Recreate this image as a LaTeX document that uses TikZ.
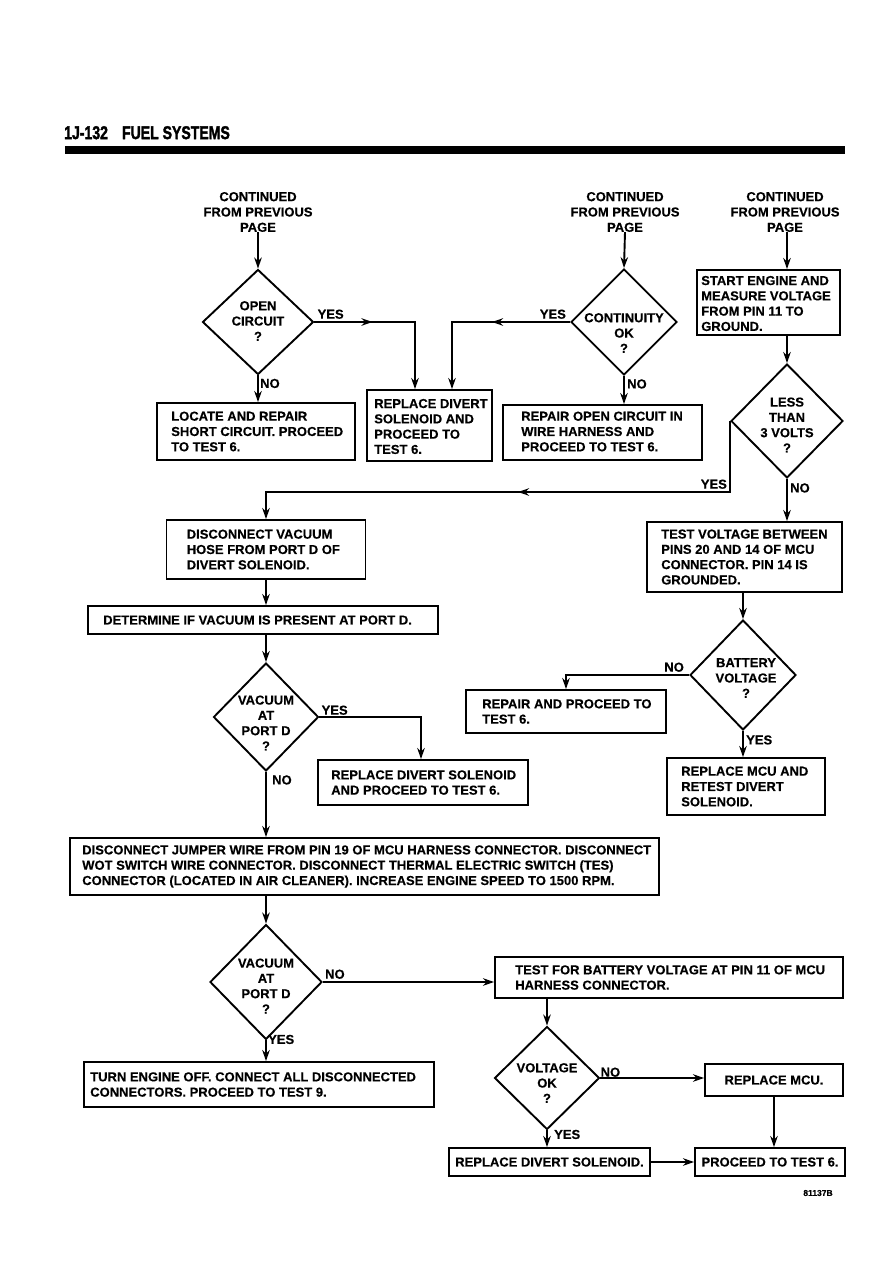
\documentclass[tikz,border=0pt]{standalone}
\usepackage{fontspec}
\setmainfont{Liberation Sans}[BoldFeatures={FakeBold=0.4}]
\newfontfamily\hdrfont{Liberation Sans}[BoldFeatures={FakeBold=2.2}]
\usetikzlibrary{shapes.geometric,arrows.meta,calc}
\begin{document}
\begin{tikzpicture}[x=1pt,y=-1pt,
 every node/.style={font=\fontsize{13}{15.3}\selectfont\bfseries, inner sep=0pt},
 box/.style={draw, line width=1.9pt, rectangle},
 dia/.style={draw, line width=1.9pt, diamond},
 arr/.style={line width=1.9pt, -{Stealth[length=11pt,width=7.5pt]}},
 txt/.style={align=left, anchor=west},
 ctr/.style={align=center}]
\useasboundingbox (0,0) rectangle (893,1263);
% header
\node[anchor=south west, font=\fontsize{18.5}{20}\hdrfont\bfseries] (hdr) at (64,139.5) {\scalebox{0.76}[1]{1J-132\quad FUEL SYSTEMS}};
\fill (65,146) rectangle (845,154);

% top row
\node[ctr] (c1) at (258,212) {CONTINUED\\FROM PREVIOUS\\PAGE};
\node[ctr] (c2) at (625,212) {CONTINUED\\FROM PREVIOUS\\PAGE};
\node[ctr] (c3) at (785,212) {CONTINUED\\FROM PREVIOUS\\PAGE};

\node[dia, minimum width=111, minimum height=105] (d1) at (258,322) {};
\node[ctr] at ($(d1.center)+(0,-1)$) {OPEN\\CIRCUIT\\?};
\node[dia, minimum width=106, minimum height=106] (d2) at (624,322) {};
\node[ctr] at ($(d2.center)+(0,11)$) {CONTINUITY\\OK\\?};

\node[box, minimum width=143, minimum height=65] (bstart) at (768.5,302.5) {};
\node[txt] at ($(bstart.west)+(5,1)$) {START ENGINE AND\\MEASURE VOLTAGE\\FROM PIN 11 TO\\GROUND.};

\node[dia, minimum width=112, minimum height=114] (d3) at (787,421) {};
\node[ctr] at ($(d3.center)+(0,4)$) {LESS\\THAN\\3 VOLTS\\?};

\node[box, minimum width=198, minimum height=57] (blocate) at (256,431.5) {};
\node[txt] at ($(blocate.west)+(15,0)$) {LOCATE AND REPAIR\\SHORT CIRCUIT. PROCEED\\TO TEST 6.};
\node[box, minimum width=125, minimum height=71] (brepl1) at (429.5,425.5) {};
\node[txt] at ($(brepl1.west)+(8,1)$) {REPLACE DIVERT\\SOLENOID AND\\PROCEED TO\\TEST 6.};
\node[box, minimum width=199, minimum height=55] (bropen) at (602.5,432.5) {};
\node[txt] at ($(bropen.west)+(19,-1)$) {REPAIR OPEN CIRCUIT IN\\WIRE HARNESS AND\\PROCEED TO TEST 6.};

% middle
\node[box, minimum width=199, minimum height=59] (bdisc) at (266,549.5) {};
\node[txt] at ($(bdisc.west)+(21,0)$) {DISCONNECT VACUUM\\HOSE FROM PORT D OF\\DIVERT SOLENOID.};
\node[box, minimum width=350, minimum height=28] (bdet) at (263,620) {};
\node[txt] at ($(bdet.west)+(16,0)$) {DETERMINE IF VACUUM IS PRESENT AT PORT D.};
\node[box, minimum width=195, minimum height=70] (btestv) at (744.5,557) {};
\node[txt] at ($(btestv.west)+(15,0)$) {TEST VOLTAGE BETWEEN\\PINS 20 AND 14 OF MCU\\CONNECTOR. PIN 14 IS\\GROUNDED.};

\node[dia, minimum width=105, minimum height=108] (d4) at (266,717) {};
\node[ctr] at ($(d4.center)+(0,6)$) {VACUUM\\AT\\PORT D\\?};
\node[dia, minimum width=106, minimum height=110] (d5) at (743,675) {};
\node[ctr] at ($(d5.center)+(3,3)$) {BATTERY\\VOLTAGE\\?};

\node[box, minimum width=200, minimum height=43] (brepair) at (566,711.5) {};
\node[txt] at ($(brepair.west)+(17,0)$) {REPAIR AND PROCEED TO\\TEST 6.};
\node[box, minimum width=210, minimum height=45] (brepl2) at (423,782.5) {};
\node[txt] at ($(brepl2.west)+(14,0)$) {REPLACE DIVERT SOLENOID\\AND PROCEED TO TEST 6.};
\node[box, minimum width=158, minimum height=57] (bmcu1) at (746,786.5) {};
\node[txt] at ($(bmcu1.west)+(15,0)$) {REPLACE MCU AND\\RETEST DIVERT\\SOLENOID.};

\node[box, minimum width=589, minimum height=57] (bbig) at (364.5,866.5) {};
\node[txt] at ($(bbig.west)+(13,0)$) {DISCONNECT JUMPER WIRE FROM PIN 19 OF MCU HARNESS CONNECTOR. DISCONNECT\\WOT SWITCH WIRE CONNECTOR. DISCONNECT THERMAL ELECTRIC SWITCH (TES)\\CONNECTOR (LOCATED IN AIR CLEANER). INCREASE ENGINE SPEED TO 1500 RPM.};

% bottom
\node[dia, minimum width=112, minimum height=115] (d6) at (266,982) {};
\node[ctr] at ($(d6.center)+(0,4)$) {VACUUM\\AT\\PORT D\\?};
\node[box, minimum width=350, minimum height=45] (bturn) at (259,1084.5) {};
\node[txt] at ($(bturn.west)+(7,0)$) {TURN ENGINE OFF. CONNECT ALL DISCONNECTED\\CONNECTORS. PROCEED TO TEST 9.};
\node[box, minimum width=348, minimum height=41] (btestbat) at (669,977.5) {};
\node[txt] at ($(btestbat.west)+(21,0)$) {TEST FOR BATTERY VOLTAGE AT PIN 11 OF MCU\\HARNESS CONNECTOR.};
\node[dia, minimum width=105, minimum height=103] (d7) at (547,1078) {};
\node[ctr] at ($(d7.center)+(0,5)$) {VOLTAGE\\OK\\?};
\node[box, minimum width=138, minimum height=32] (bmcu2) at (774,1080) {};
\node at (bmcu2.center) {REPLACE MCU.};
\node[box, minimum width=201, minimum height=28] (brepldiv) at (549.5,1162) {};
\node at (brepldiv.center) {REPLACE DIVERT SOLENOID.};
\node[box, minimum width=150, minimum height=28] (bproc) at (770,1162) {};
\node at (bproc.center) {PROCEED TO TEST 6.};
\node[font=\fontsize{8.5}{10}\selectfont\bfseries] (code) at (818,1193) {81137B};

% connectors top
\draw[arr] (c1.south) -- (d1.north);
\draw[arr] (c2.south) -- (d2.north);
\draw[arr] (c3.south -| d3.north) -- (d3.north |- bstart.north);
\coordinate (r1a) at ($(brepl1.north)+(-14.5,0)$);
\coordinate (r1b) at ($(brepl1.north)+(22.5,0)$);
\draw[arr] (d1.east) -| (r1a);
\draw[arr] (d1.east) -- ++(58,0);
\draw[arr] (d2.west) -| (r1b);
\draw[arr] (d2.west) -- ++(-78,0);
\draw[arr] (d1.south) -- (d1.south |- blocate.north);
\draw[arr] (d2.south) -- (d2.south |- bropen.north);
\node[anchor=south west] at ($(d1.east)+(3,-3)$) {YES};
\node[anchor=south east] at ($(d2.west)+(-4,-3)$) {YES};
\node[anchor=west] at ($(d1.south)+(2,8)$) {NO};
\node[anchor=west] at ($(d2.south)+(3,8)$) {NO};
\draw[arr] (d3.north |- bstart.south) -- (d3.north);

% less than 3 volts
\coordinate (y3) at ($(d3.west)+(0,71)$);
\draw[arr] (d3.west) -- (y3) -| (bdisc.north);
\draw[arr] (y3) -- ++(-212,0);
\node[anchor=south east] at ($(y3)+(-3,-3)$) {YES};
\draw[arr] (d3.south) -- (d3.south |- btestv.north);
\node[anchor=west] at ($(d3.south)+(3,9)$) {NO};

% middle connectors
\draw[arr] (bdisc.south) -- (bdisc.south |- bdet.north);
\draw[arr] (bdet.south -| d4.north) -- (d4.north);
\coordinate (r2) at ($(brepl2.north)+(-2,0)$);
\draw[arr] (d4.east) -| (r2);
\node[anchor=south west] at ($(d4.east)+(2,-2)$) {YES};
\draw[arr] (d4.south) -- (d4.south |- bbig.north);
\node[anchor=west] at ($(d4.south)+(6,8)$) {NO};

\draw[arr] (btestv.south -| d5.north) -- (d5.north);
\draw[arr] (d5.west) -| (brepair.north);
\node[anchor=south east] at ($(d5.west)+(-5,-3)$) {NO};
\draw[arr] (d5.south) -- (d5.south |- bmcu1.north);
\node[anchor=west] at ($(d5.south)+(3,9)$) {YES};

% bottom connectors
\draw[arr] (bbig.south -| d6.north) -- (d6.north);
\draw[arr] (d6.east) -- (d6.east -| btestbat.west);
\node[anchor=south west] at ($(d6.east)+(2,-3)$) {NO};
\draw[arr] (d6.south) -- (d6.south |- bturn.north);
\node[anchor=west] at ($(d6.south)+(2,-1)$) {YES};
\draw[arr] (btestbat.south -| d7.north) -- (d7.north);
\draw[arr] (d7.east) -- (d7.east -| bmcu2.west);
\node[anchor=south west] at ($(d7.east)+(0,-1)$) {NO};
\draw[arr] (d7.south) -- (d7.south |- brepldiv.north);
\node[anchor=west] at ($(d7.south)+(7,4)$) {YES};
\draw[arr] (bmcu2.south) -- (bmcu2.south |- bproc.north);
\draw[arr] (brepldiv.east) -- (bproc.west);
\end{tikzpicture}
\end{document}
